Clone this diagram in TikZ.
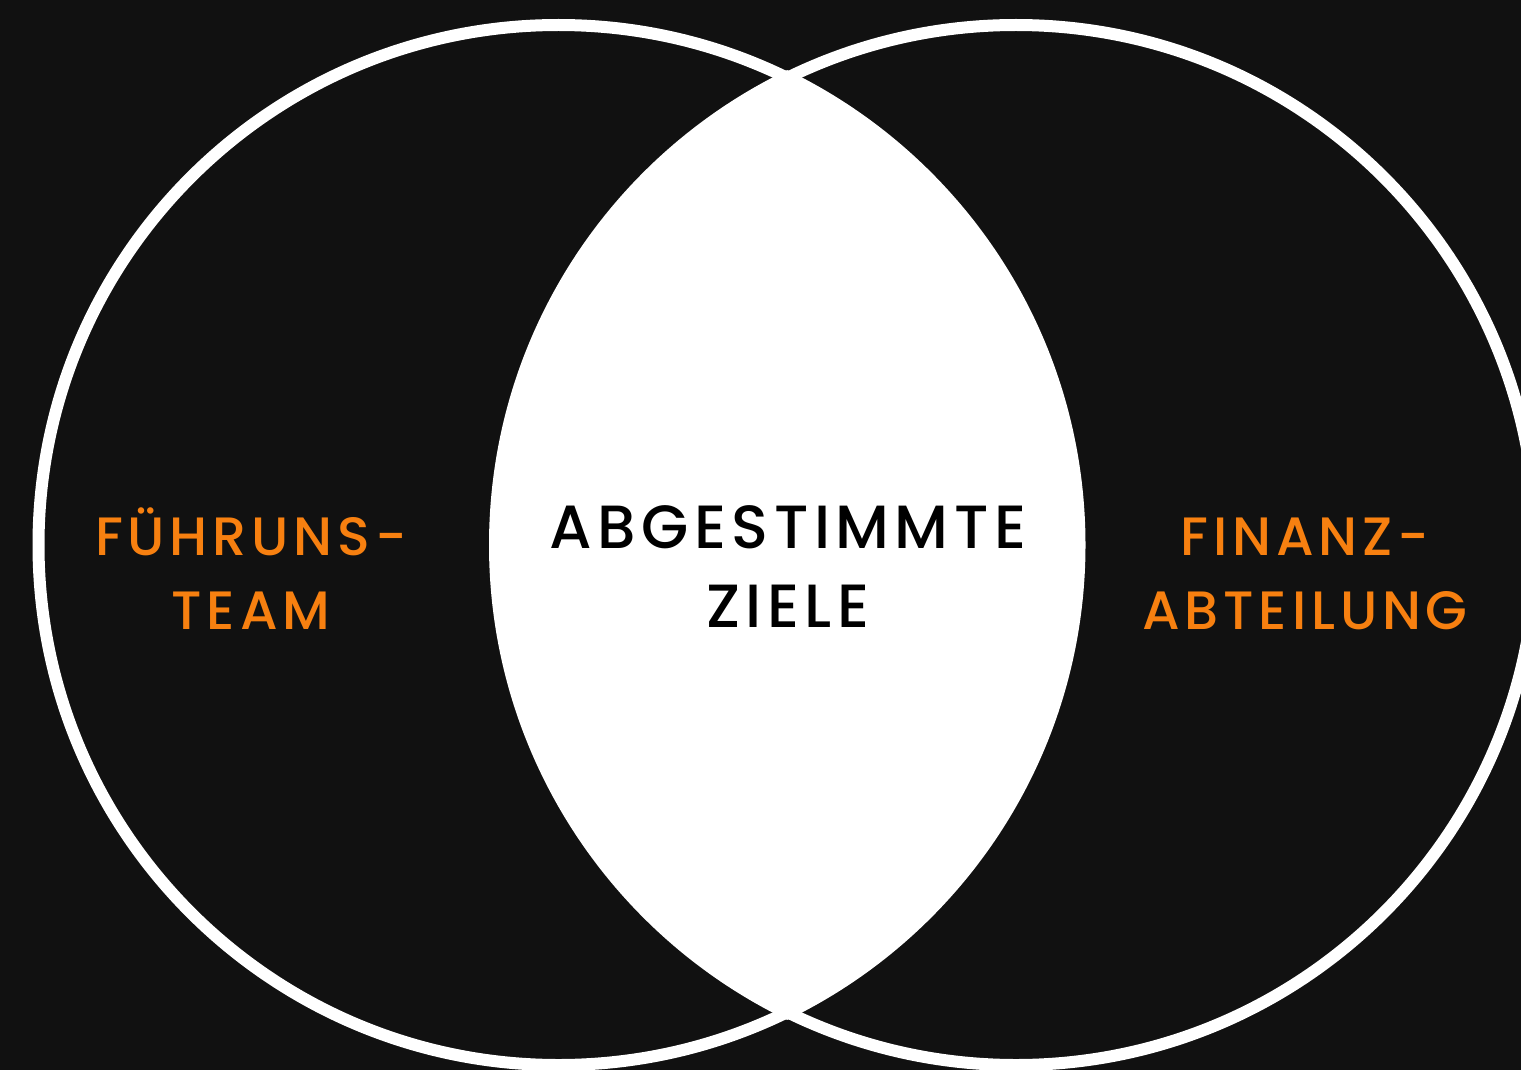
\documentclass[tikz,border=0pt]{standalone}
\usepackage{fontspec}
\setmainfont{Poppins}[UprightFont=* Medium,LetterSpace=9]
\definecolor{vennbg}{RGB}{17,17,17}
\definecolor{vennorange}{RGB}{247,128,16}

\begin{document}
\begin{tikzpicture}[x=1pt,y=-1pt,
    ring/.style={draw=white,line width=12pt},
    sidelabel/.style={text=vennorange,align=center,font=\fontsize{54}{74}\selectfont},
    midlabel/.style={text=black,align=center,font=\fontsize{61}{79}\selectfont}]
    \useasboundingbox (0,0) rectangle (1521,1070);
    \clip (0,0) rectangle (1521,1070);
    \fill[vennbg] (0,0) rectangle (1521,1070);
    % overlap of the two sets
    \begin{scope}
      \clip (558.5,545) circle [radius=527pt];
      \fill[white] (1016,545) circle [radius=527pt];
    \end{scope}
    \draw[ring] (558.5,545) circle [radius=520pt];
    \draw[ring] (1016,545) circle [radius=520pt];
    \node[sidelabel] (team) at (251,569) {FÜHRUNS-\\TEAM};
    \node[midlabel] (goals) at (788,567) {ABGESTIMMTE\\ZIELE};
    \node[sidelabel] (finance) at (1305,574) {FINANZ-\\ABTEILUNG};
  \end{tikzpicture}
\end{document}
